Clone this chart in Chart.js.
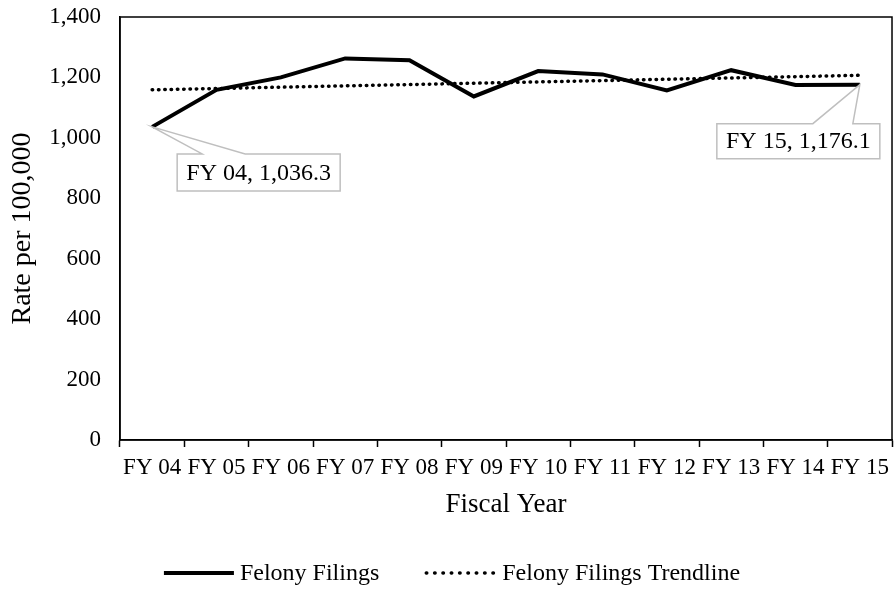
<!DOCTYPE html>
<html>
<head>
<meta charset="utf-8">
<script src="https://cdn.jsdelivr.net/npm/chart.js@4/dist/chart.umd.min.js"></script>
<style>
  html, body { margin: 0; padding: 0; background: #fff; }
  #wrap { width: 896px; height: 591px; }
</style>
</head>
<body>
<div id="wrap"><canvas id="c" width="896" height="591"></canvas></div>
<script>
// Felony filings per 100,000, fiscal years 2004-2015
const fiscalYears = ['FY 04', 'FY 05', 'FY 06', 'FY 07', 'FY 08', 'FY 09', 'FY 10', 'FY 11', 'FY 12', 'FY 13', 'FY 14', 'FY 15'];
const felonyFilings = [1036.3, 1159, 1200, 1263, 1257, 1137, 1221, 1210, 1157, 1224, 1175, 1176.1];
// Linear trend end points (first and last fiscal year)
const trendYears = ['FY 04', 'FY 15'];
const trendValues = [1159, 1207];
// Y axis range
const yMin = 0, yMax = 1400, yStep = 200;
// Years that carry a value callout
const calloutYears = ['FY 04', 'FY 15'];

const FONT = "'Liberation Serif', 'Times New Roman', serif";
const fmt = v => v.toLocaleString('en-US', { maximumFractionDigits: 1, minimumFractionDigits: 0 });
const fmt1 = v => v.toLocaleString('en-US', { maximumFractionDigits: 1, minimumFractionDigits: 1 });

// Frame around the plotting area
const framePlugin = {
  id: 'frame',
  afterDraw(chart) {
    const { ctx, chartArea: a } = chart;
    ctx.save();
    ctx.strokeStyle = '#000';
    ctx.lineWidth = 1.5;
    ctx.strokeRect(a.left, a.top, a.right - a.left, a.bottom - a.top);
    ctx.restore();
  }
};

// Callout boxes with pointers for selected points
const calloutPlugin = {
  id: 'callouts',
  afterDatasetsDraw(chart) {
    const { ctx } = chart;
    const meta = chart.getDatasetMeta(0);
    const styles = {
      'FY 04': { dx: 25, dy: 27, w: 163, h: 37, b1: 50, b2: 93 },
      'FY 15': { dx: -143, dy: 39, w: 163, h: 35, b1: -47, b2: -7 }
    };
    ctx.save();
    calloutYears.forEach(yr => {
      const i = fiscalYears.indexOf(yr);
      const pt = meta.data[i];
      const s = styles[yr];
      const px = pt.x, py = pt.y;
      const L = px + s.dx, T = py + s.dy, R = L + s.w, B = T + s.h;
      ctx.beginPath();
      ctx.moveTo(L, T);
      ctx.lineTo(px + s.b1, T);
      ctx.lineTo(px, py);
      ctx.lineTo(px + s.b2, T);
      ctx.lineTo(R, T);
      ctx.lineTo(R, B);
      ctx.lineTo(L, B);
      ctx.closePath();
      ctx.fillStyle = '#fff';
      ctx.fill();
      ctx.strokeStyle = '#bfbfbf';
      ctx.lineWidth = 1.5;
      ctx.stroke();
      ctx.fillStyle = '#000';
      ctx.font = '24px ' + FONT;
      ctx.textAlign = 'center';
      ctx.textBaseline = 'middle';
      ctx.fillText(yr + ', ' + fmt1(felonyFilings[i]), (L + R) / 2, (T + B) / 2 + 1);
    });
    ctx.restore();
  }
};

// Legend row under the chart, built from the dataset styles
const legendRowPlugin = {
  id: 'legendRow',
  afterDraw(chart) {
    const { ctx } = chart;
    const sampleLen = 70, textGap = 6, itemGap = 47, y = 573;
    ctx.save();
    ctx.font = '24px ' + FONT;
    const items = chart.data.datasets.map(ds => ({ ds, tw: ctx.measureText(ds.label).width }));
    const total = items.reduce((s, it) => s + sampleLen + textGap + it.tw, 0) + itemGap * (items.length - 1);
    let x = (chart.width - total) / 2 + 4;
    items.forEach(({ ds, tw }) => {
      ctx.beginPath();
      ctx.strokeStyle = ds.borderColor;
      ctx.lineWidth = ds.borderWidth;
      ctx.lineCap = ds.borderCapStyle || 'butt';
      ctx.setLineDash(ds.borderDash ? [ds.borderDash[0], ds.borderDash[1] * 1.35] : []);
      ctx.moveTo(x, y);
      ctx.lineTo(x + sampleLen, y);
      ctx.stroke();
      ctx.setLineDash([]);
      ctx.fillStyle = '#000';
      ctx.textAlign = 'left';
      ctx.textBaseline = 'middle';
      ctx.fillText(ds.label, x + sampleLen + textGap, y + 1);
      x += sampleLen + textGap + tw + itemGap;
    });
    ctx.restore();
  }
};

new Chart(document.getElementById('c'), {
  type: 'line',
  data: {
    labels: fiscalYears,
    datasets: [
      {
        label: 'Felony Filings',
        data: felonyFilings,
        borderColor: '#000',
        backgroundColor: '#000',
        borderWidth: 4,
        pointRadius: 0,
        tension: 0,
        borderJoinStyle: 'miter'
      },
      {
        label: 'Felony Filings Trendline',
        data: trendYears.map((x, i) => ({ x, y: trendValues[i] })),
        borderColor: '#000',
        backgroundColor: '#000',
        borderWidth: 3.5,
        borderDash: [0.5, 5.8],
        borderCapStyle: 'round',
        pointRadius: 0,
        tension: 0
      }
    ]
  },
  options: {
    responsive: false,
    animation: false,
    devicePixelRatio: 1,
    layout: { padding: { top: 17, right: 2, left: 0, bottom: 36 } },
    plugins: {
      legend: { display: false },
      tooltip: { enabled: false }
    },
    scales: {
      x: {
        type: 'category',
        offset: true,
        grid: { offset: true, drawOnChartArea: false, tickLength: 7, color: '#000', tickWidth: 1.5 },
        border: { color: '#000', width: 1.5 },
        ticks: { color: '#000', font: { family: FONT, size: 23 }, padding: 7, maxRotation: 0, autoSkip: false },
        title: { display: true, text: 'Fiscal Year', color: '#000', font: { family: FONT, size: 27 }, padding: { top: 4, bottom: 34 } },
        afterFit(scale) { scale.height = 115; }
      },
      y: {
        min: yMin,
        max: yMax,
        grid: { drawOnChartArea: false, drawTicks: false },
        border: { color: '#000', width: 1.5 },
        ticks: { stepSize: yStep, color: '#000', font: { family: FONT, size: 23 }, padding: 19, callback: v => fmt(v) },
        title: { display: true, text: 'Rate per 100,000', color: '#000', font: { family: FONT, size: 28 }, padding: { top: 6, bottom: 0 } },
        afterFit(scale) {
          scale.width = 120;
          scale.paddingTop = 0;
          scale.paddingBottom = 0;
        }
      }
    }
  },
  plugins: [framePlugin, calloutPlugin, legendRowPlugin]
});
</script>
</body>
</html>
